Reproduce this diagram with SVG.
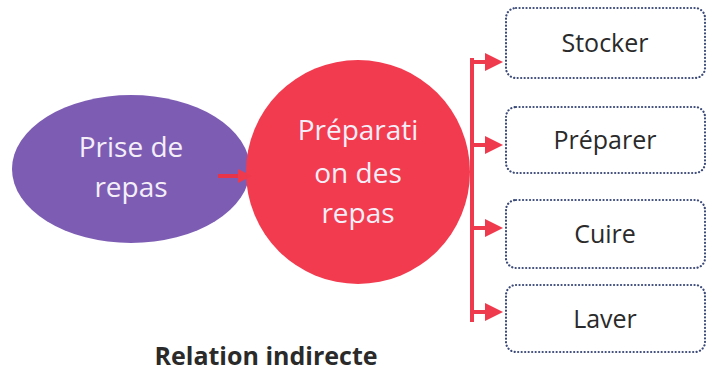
<svg xmlns="http://www.w3.org/2000/svg" width="712" height="374" viewBox="0 0 712 374">
<style>
.t{font-family:"Open Sans","Liberation Sans",sans-serif;text-anchor:middle}
.w{fill:#f4eef8;font-size:28px}
.box{fill:#fff;stroke:#3b4a78;stroke-width:2.2;stroke-dasharray:0.1 3.4;stroke-linecap:round}
.lbl{fill:#2a2a2a;font-size:25px}
.con{stroke:#ef3a4e;stroke-width:4;fill:none}
.head{fill:#ef3a4e}
</style>
<rect width="712" height="374" fill="#fff"/>
<g id="prise">
<ellipse cx="131" cy="169" rx="119" ry="74" fill="#7d5db4"/>
<text class="t w" x="131" y="157">Prise de</text>
<text class="t w" x="131" y="197">repas</text>
</g>
<g id="preparation">
<circle cx="358" cy="172" r="112" fill="#f23b4f"/>
<text class="t w" x="358" y="140">Préparati</text>
<text class="t w" x="358" y="183">on des</text>
<text class="t w" x="358" y="223">repas</text>
</g>
<g id="connectors">
<line x1="218" y1="176" x2="242" y2="176" stroke="#e8344a" stroke-width="4"/>
<polygon class="head" points="238,169 252,176 238,183"/>
<line x1="472" y1="58" x2="472" y2="322" class="con"/>
<path class="con" d="M472,62 H490 M472,145 H490 M472,228 H490 M472,312 H490"/>
<polygon class="head" points="485,53 503,62 485,71"/>
<polygon class="head" points="485,136 503,145 485,154"/>
<polygon class="head" points="485,219 503,228 485,237"/>
<polygon class="head" points="485,303 503,312 485,321"/>
</g>
<g id="stocker">
<rect class="box" x="506" y="8" width="199" height="70" rx="10"/>
<text class="t lbl" x="605" y="52">Stocker</text>
</g>
<g id="preparer">
<rect class="box" x="506" y="107" width="199" height="66" rx="10"/>
<text class="t lbl" x="605" y="149">Préparer</text>
</g>
<g id="cuire">
<rect class="box" x="506" y="200" width="199" height="68" rx="10"/>
<text class="t lbl" x="605" y="243">Cuire</text>
</g>
<g id="laver">
<rect class="box" x="506" y="285" width="199" height="67" rx="10"/>
<text class="t lbl" x="605" y="328">Laver</text>
</g>
<text class="t" x="266" y="365" font-size="25" font-weight="bold" fill="#2a2a2a">Relation indirecte</text>
</svg>
